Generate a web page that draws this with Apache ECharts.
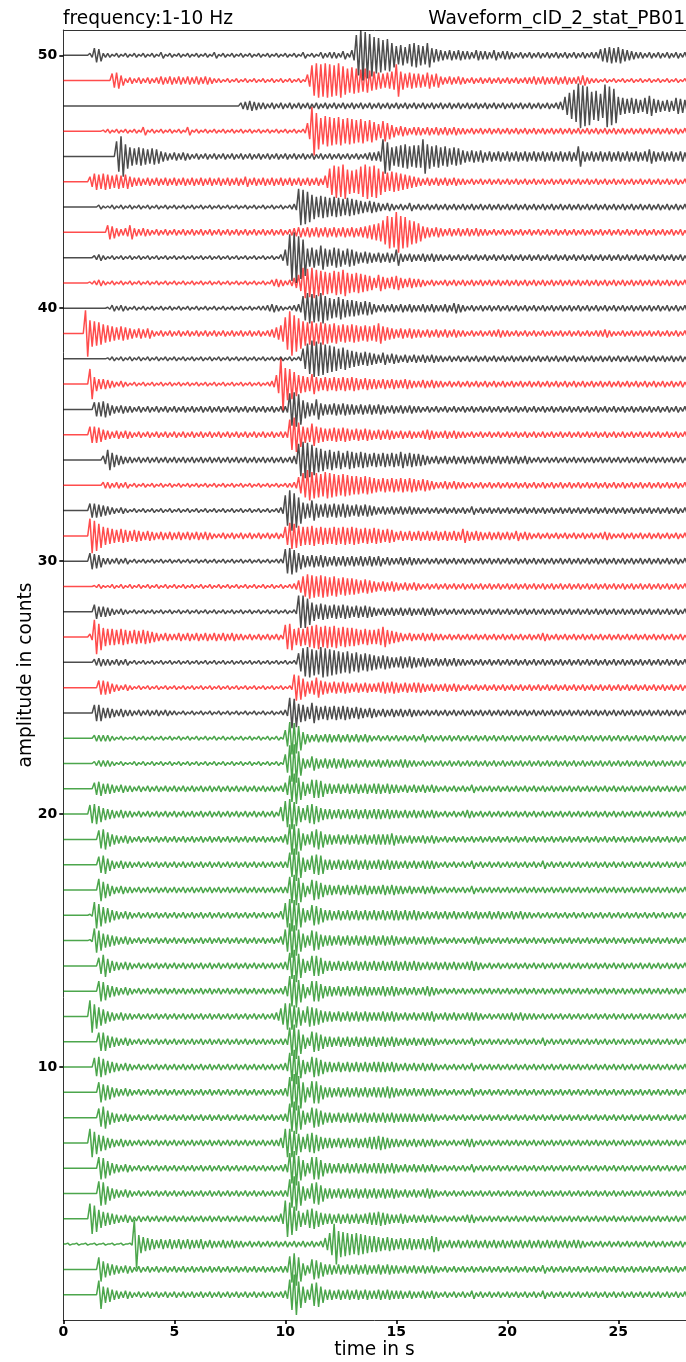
<!DOCTYPE html>
<html><head><meta charset="utf-8">
<script src="https://cdn.jsdelivr.net/npm/echarts/dist/echarts.min.js"></script>
<style>html,body{margin:0;padding:0;background:#fff}#c{width:686px;height:1362px}</style>
</head><body><div id="c"></div>
<script>
// Each trace: one base-36 char per 0.2 s window = amplitude level of the oscillation
// cycle (one peak, one trough) read in that window. Groups of 5 chars = 1 s.
const CYCLE = 0.2;
const LEVEL_UNIT = 0.04;
const xTicks = [0, 5, 10, 15, 20, 25];
const yTicks = [10, 20, 30, 40, 50];

const greenOffsets = [1,2,3,4,5,6,7,8,9,10,11,12,13,14,15,16,17,18,19,20,21,22,23];
const greenTraces = [
"00000 000e8 75434 32323 23232 32323 23232 32323 23232 32323 4fkd8 5bc85 54545 45454 45454 44343 34343 23232 32423 23232 32323 23242 32323 23232 32323 23232 32323 23232 32323",
"00000 000c8 65434 32323 23232 32323 23232 32323 23232 32323 3dgc6 4a975 54545 45454 45454 43434 34343 23232 32323 23232 32323 23242 32323 23232 32323 23232 32323 23232 32323",
"01010 10101 01010 1o976 54545 45454 45343 34343 32323 23232 32323 23236 bkdcb aba98 87676 56565 56587 43434 34343 43434 34343 43434 34343 44323 23232 32323 23232 32323 23232",
"00000 0fd97 65434 32323 23232 32323 23232 32323 23232 32335 igc86 9a865 54545 45456 67654 45434 34343 23232 34423 23232 32323 23232 32323 23232 32323 23232 32323 23232 32323",
"00000 000cb 75434 32323 23232 32323 23232 32323 23232 32323 3ehc7 5ab85 54545 45454 54545 43434 34543 23232 32323 23232 32323 23232 32323 23232 32323 23232 32323 23232 32323",
"00000 000ba 75434 32323 23232 32323 23232 32323 23232 32323 4fhc8 5bb85 54545 45454 55545 43434 34343 23232 32423 23232 32323 23232 32323 23232 32323 23232 32323 23232 32323",
"00000 0eb87 54343 32323 23232 32323 23232 32323 23232 32335 eec96 9a865 54545 45456 67654 43434 34343 23232 34423 23232 32323 23232 32323 23232 32323 23232 32323 23232 32323",
"00000 0009b 75434 32323 23232 32323 23232 32323 23232 32323 4egc7 5a975 54545 45454 54545 44444 34343 23232 32323 23232 32323 23232 32323 23232 32323 23232 32323 23232 32323",
"00000 000a8 75434 32323 23232 32323 23232 32323 23232 32323 4figa 5bb75 54545 45454 55565 43434 34343 23232 32423 23232 32323 23232 32323 23232 32323 23232 32323 23232 32323",
"00000 009a8 65434 32323 23232 32323 23232 32323 23232 32323 4ehb7 5a975 54545 45454 55545 43434 34343 23232 32423 23232 32323 23232 32323 23232 32323 23232 32323 23232 32323",
"00000 00099 65434 32323 23232 32323 23232 32323 23232 32323 3ehc7 4a975 54545 45454 54545 43434 34343 23232 32423 23232 32323 23242 32323 23232 32323 23232 32323 23232 32323",
"00000 0gc97 54343 32323 23232 32323 23232 32323 23232 32348 ddb96 a9865 54545 45454 44545 43434 34453 34343 34443 23233 34343 33232 32323 23232 32323 23232 32323 23232 32323",
"00000 000a9 65434 32323 23232 32323 23232 32323 23232 32323 5fgb7 4aa75 54545 45454 44545 43434 34543 23232 32323 23232 32323 23232 32323 23232 32323 23232 32323 23232 32323",
"00000 0008b 75434 32323 23232 32323 23232 32323 23232 32323 4dgc7 5aa85 54545 45454 54545 54545 43434 34343 34543 23232 32323 23232 32323 23232 32323 23232 32323 23232 32323",
"00000 01ca7 65434 32323 23232 32323 23232 32323 23232 32324 bhfb7 5a965 54545 45454 54545 43434 34343 23232 32343 23232 32323 23232 32323 23232 32323 23232 32323 23232 32323",
"00000 01db8 75434 32323 23232 32323 23232 32323 23232 32324 cgfc7 5a975 54545 45454 54545 54545 43434 34343 34343 34343 34343 32323 23232 32323 23232 32323 23232 32323 23232",
"00000 000b8 64343 32323 23232 32323 23232 32323 23232 32323 3dfc7 4a975 54545 45454 44545 44343 34343 23232 32423 23232 32323 23232 32323 23232 32323 23232 32323 23232 32323",
"00000 00089 64343 32323 23232 32323 23232 32323 23232 32323 3cgd7 59a95 54545 45454 45454 43434 34443 23232 32423 23232 32323 23242 32323 23232 32323 23232 32323 23232 32323",
"00000 0009a 75434 32323 23232 32323 23232 32323 23232 32323 5ffb6 58a85 54545 45454 55556 44343 34343 23232 32323 23232 32323 23232 32323 23232 32323 23232 32323 23232 32323",
"00000 09a86 54343 32323 23232 32323 23232 32323 23232 32327 dfc86 9a865 54545 45454 55454 43434 34343 23232 34323 23232 32323 23232 32323 23232 32323 23232 32323 23232 32323",
"00000 00675 54343 32323 23232 32323 23232 32323 23232 32323 6dfb7 59985 54545 45454 55454 43434 34343 23232 32423 23232 32323 23232 32323 23232 32323 23232 32323 23232 32323",
"00000 00233 32121 12121 21212 12121 21212 12121 21212 12121 9ijc5 47545 45454 34343 34343 34433 23232 32323 23232 32323 23232 32323 23232 32323 23232 32323 23232 32323 23232",
"00000 00333 32121 12121 21212 12121 21212 12121 21212 12121 8gfc6 43434 43434 34343 23232 32323 24232 32323 23232 32323 23232 32323 23232 32323 23232 32323 23232 32323 23232"
];

const blackOffsets = [24,26,28,30,32,34,36,38,40,42,44,46,48,50];
const blackTraces = [
"00000 00885 54343 32323 23232 21212 12121 21212 12121 21212 3fe98 6a767 67676 56545 43434 34343 32323 23232 32323 23232 32323 23232 32323 23232 32323 23232 32323 23232 32323",
"00000 00343 32323 12121 21212 12121 21212 12121 21212 12121 2129e fdcfe dcbab 9a898 76765 56565 45434 34343 32323 23232 32323 23232 32323 23232 32323 23232 32323 23232 32323",
"00000 00755 43232 12121 21212 12121 21212 12121 21212 12121 212gg d9787 67676 56565 43434 34343 34343 23232 32323 23232 32323 23232 32323 23232 32323 23232 32323 23232 32323",
"00000 08763 32323 12121 21212 12121 21212 12121 21212 12122 cdb86 56565 45454 54545 45343 34343 32323 23232 32323 23232 32323 23232 32323 23232 32323 23232 32323 23232 32323",
"00000 07765 43232 12121 21212 12121 21212 12121 21212 12123 fkhd8 7a767 67676 56565 43434 34343 32323 23232 32423 23232 32323 23232 32323 23232 32323 23232 32323 23232 32323",
"00000 00004 a7543 32323 23232 32323 23232 32323 23232 32323 234gi hfcb9 a8979 87876 76767 68676 65434 34343 43434 34343 43434 32323 23232 32323 23232 32323 23232 32323 23232",
"00000 00778 64343 32323 23232 32323 23232 32323 23232 32323 3ghf9 76a65 56565 54545 45434 34343 32323 23232 32323 23232 32323 23232 32323 23232 32323 23232 32323 23232 32323",
"00000 00000 12121 21212 12121 21212 12121 21212 12121 21212 1212a fihge dcab9 87676 54645 43434 34343 32323 23232 32323 23232 32323 23232 32323 23232 32323 23232 32323 23232",
"00000 00000 13232 12121 21212 12121 21212 12121 21212 23432 1234c fedfc a9b98 87676 43434 34343 34343 34354 32323 23232 32323 23232 32323 23232 32323 23232 32323 23232 32323",
"00000 00232 12121 21212 12121 21212 12121 21212 12121 21213 8npli 9a8c9 8a979 86565 45454 84343 34343 32323 23232 32323 23232 32323 23232 32323 23232 32323 23232 32323 23232",
"00000 00021 12121 21212 12121 21212 12121 21212 12121 21212 123ih fcaba 9a989 87656 54343 23242 32323 23232 32323 23232 32323 23232 32323 23232 32323 23232 32323 23232 32323",
"00000 00000 00fkc 98987 87543 43432 32323 23232 32323 23232 32323 23232 32323 23234 45he9 abcab bhcab 9a898 65656 45454 54545 45454 54545 4a545 45454 54545 45754 54545 45454",
"00000 00000 00000 00000 00000 00000 00000 00000 34543 32323 23232 32323 23232 32323 23232 32323 23232 32323 23232 32323 23232 32323 2349d gmkje fcljh 98787 68a76 56587 65656",
"00000 02762 21212 12121 21312 12121 21213 12121 21212 12121 21213 12132 33242 5kpnl ihfgc 9a8bc a9c76 54545 44354 43534 43232 32323 23232 32323 36787 86543 32323 23232 32323"
];

const redOffsets = [25,27,29,31,33,35,37,39,41,43,45,47,49];
const redTraces = [
"00000 00077 64323 21212 12121 21212 12121 21212 12121 21212 12dc9 67a76 56565 45454 45656 54545 54343 34343 23232 32323 23232 32323 23232 32323 23232 32323 23232 32323 23232",
"00000 03hd9 88787 67676 54343 34343 43434 34343 32323 23232 cd898 abcab ab9a9 98787 78a76 54343 34343 32323 23232 32323 23232 32343 23232 32323 23232 32323 23232 32323 23232",
"00000 00121 12121 21212 12121 21212 12121 21212 12121 21212 1236a cbaba 9a898 87676 54545 43434 32323 23232 32323 23232 32323 23232 32323 23232 32323 23232 32323 23232 32323",
"00000 0hfc9 87676 56545 43434 34343 43432 23232 32323 23232 9dca9 9a898 89898 98787 87676 45454 54545 45454 75454 34343 43534 32323 23232 32323 23432 23232 32323 23232 32323",
"00000 00003 32323 12121 21212 12121 21212 12121 21212 12121 2238c fdcbd cbaba 99898 76767 67676 56543 34343 32323 23232 32323 23232 32323 23232 32323 23232 32323 23232 32323",
"00000 08875 43434 32323 23232 32323 23232 32323 23232 32323 3fhc8 7b876 67676 56565 45454 34343 34543 34343 32323 23232 32323 23232 32323 23232 32323 23232 32323 23232 32323",
"00000 0f755 43232 12121 21212 12121 21212 12121 21212 1239q gfc98 7a767 67676 76565 54545 44543 34343 32323 23232 32323 23232 32323 23232 32323 23232 32323 23232 32323 23232",
"00000 ndcb9 87676 54545 32323 23232 32323 23232 32323 23468 gmifc bcaba 9a898 98787 8a765 45454 43434 34343 32323 23343 32323 23232 32323 23232 33432 23232 32323 23232 32323",
"00000 01232 12121 21212 12121 21212 12121 21212 12121 21343 2358f efdcb acbda 9a987 58656 75454 43232 23232 32323 23232 32323 23232 32323 23232 32323 23232 32323 23232 32323",
"00000 00000 76434 74343 23232 32323 23232 32323 23232 32323 23454 54545 45454 54567 89cgf kgfcb 96545 43434 34343 32323 23232 32323 23232 32323 23232 32323 23232 32323 23232",
"00000 05878 76767 54434 34343 43434 34343 43434 35343 43434 34343 43436 dgfhc bcfhf gda9a 98765 43434 34343 32323 23232 32323 23232 32323 23232 32323 23232 32323 23232 32323",
"00000 00001 21212 12141 21212 12141 21212 12121 21212 12121 21212 8oidf edecd cbcab 97a86 45434 43434 34343 32323 23232 32323 23232 32323 23232 32323 23232 32323 23232 32323",
"00000 00000 07852 32323 23434 34343 43432 21212 12121 21212 12121 6fhgh gfhec dcbca 98789 g9787 76867 43434 32323 23232 32323 34343 34343 34532 21212 12121 21212 12121 21212"
];

function tracePoints(str, offset) {
  const s = str.replace(/\s+/g, '');
  const pts = [];
  for (let i = 0; i < s.length; i++) {
    const a = parseInt(s[i], 36) * LEVEL_UNIT;
    const t = i * CYCLE;
    pts.push([t, offset + a]);
    pts.push([t + CYCLE / 2, offset - a]);
  }
  return pts;
}

const all = [];
greenTraces.forEach((t, i) => all.push({off: greenOffsets[i], str: t, color: 'green'}));
blackTraces.forEach((t, i) => all.push({off: blackOffsets[i], str: t, color: 'black'}));
redTraces.forEach((t, i) => all.push({off: redOffsets[i], str: t, color: 'red'}));
all.sort((a, b) => a.off - b.off);

const series = all.map(tr => ({
  type: 'line', data: tracePoints(tr.str, tr.off), symbol: 'none', showSymbol: false,
  silent: true, animation: false, clip: true,
  lineStyle: {color: tr.color, width: 1.5, opacity: 0.7}
}));

const FONT = 'DejaVu Sans';
const chart = echarts.init(document.getElementById('c'), null, {renderer: 'canvas'});
chart.setOption({
  backgroundColor: '#fff',
  animation: false,
  grid: {left: 63.3, top: 30, width: 622.7, height: 1290},
  xAxis: [{
    type: 'value', min: 0, max: 28.05, interval: 5,
    axisLine: {show: true, lineStyle: {color: '#333', width: 1}},
    axisTick: {show: true, length: 4, customValues: xTicks, lineStyle: {color: '#000', width: 1.6}},
    axisLabel: {show: true, customValues: xTicks, margin: 5, fontFamily: FONT, fontWeight: 'bold', fontSize: 14, color: '#000'},
    splitLine: {show: false}
  }, {
    type: 'value', position: 'top', min: 0, max: 28.05,
    axisLine: {show: true, lineStyle: {color: '#333', width: 1}},
    axisTick: {show: false}, axisLabel: {show: false}, splitLine: {show: false}
  }],
  yAxis: {
    type: 'value', min: 0, max: 51, interval: 10,
    axisLine: {show: true, lineStyle: {color: '#333', width: 1}},
    axisTick: {show: true, length: 4, customValues: yTicks, lineStyle: {color: '#000', width: 1.6}},
    axisLabel: {show: true, customValues: yTicks, margin: 6, fontFamily: FONT, fontWeight: 'bold', fontSize: 14, color: '#000'},
    splitLine: {show: false}
  },
  graphic: [
    {type: 'text', left: 63, top: 10, style: {text: 'frequency:1-10 Hz', font: '18.6px "DejaVu Sans"', fill: '#000'}},
    {type: 'text', right: 1, top: 10, style: {text: 'Waveform_cID_2_stat_PB01', font: '18.6px "DejaVu Sans"', fill: '#000'}},
    {type: 'text', x: 374.5, y: 1350, style: {text: 'time in s', font: '18.6px "DejaVu Sans"', fill: '#000', align: 'center', verticalAlign: 'middle'}},
    {type: 'text', x: 26, y: 675, rotation: Math.PI / 2, style: {text: 'amplitude in counts', font: '18.6px "DejaVu Sans"', fill: '#000', align: 'center', verticalAlign: 'middle'}}
  ],
  series: series
});
</script>
</body></html>
